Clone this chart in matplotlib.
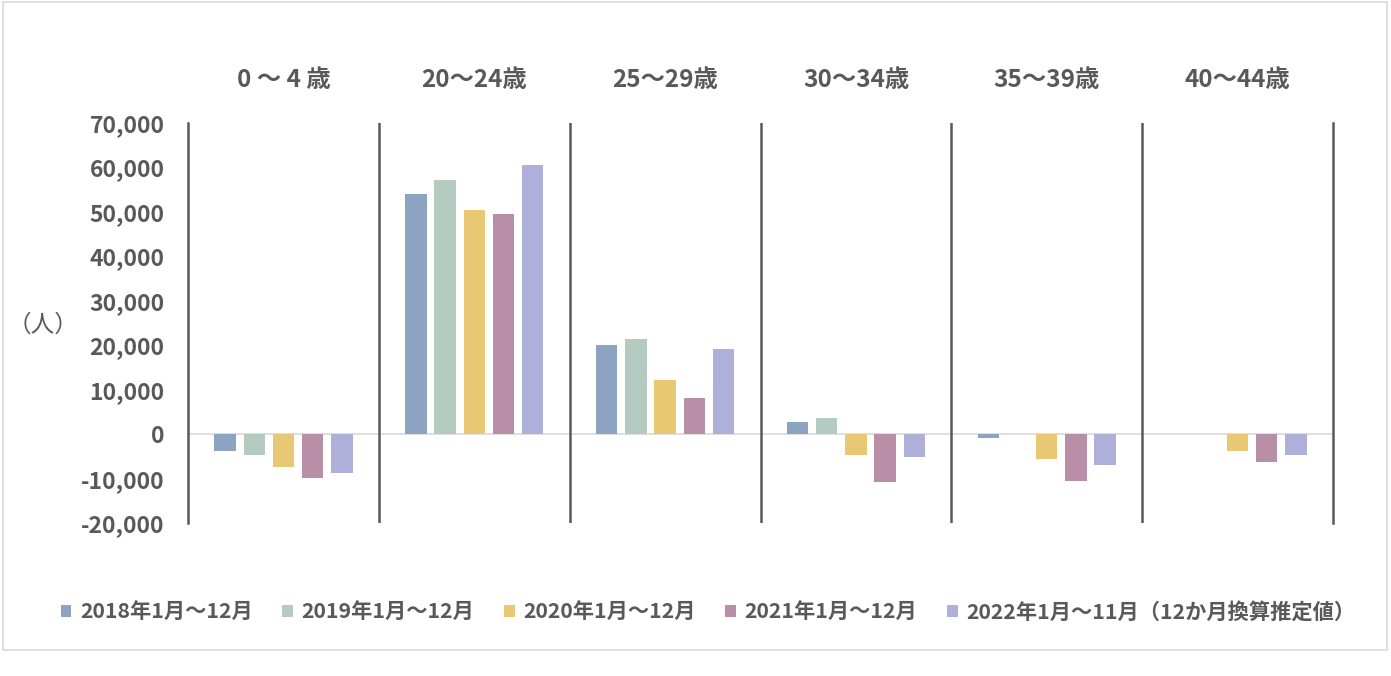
import matplotlib
matplotlib.use("Agg")
import matplotlib.pyplot as plt
import numpy as np
from matplotlib.patches import Patch, Rectangle
from matplotlib.ticker import FuncFormatter

plt.rcParams['font.family'] = ['Noto Sans CJK JP', 'DejaVu Sans']

# Data (persons, net change by age group)
age_groups = ['0 ～ 4 歳', '20～24歳', '25～29歳', '30～34歳', '35～39歳', '40～44歳']
series_labels = ['2018年1月～12月', '2019年1月～12月', '2020年1月～12月',
                 '2021年1月～12月', '2022年1月～11月（12か月換算推定値）']
v2018 = [-3800, 54000, 20000, 2700, -900, 0]
v2019 = [-4600, 57100, 21400, 3600, 0, 0]
v2020 = [-7400, 50400, 12200, -4800, -5600, -3800]
v2021 = [-9900, 49500, 8100, -10700, -10500, -6200]
v2022 = [-8800, 60600, 19100, -5200, -7000, -4600]
series_values = [v2018, v2019, v2020, v2021, v2022]
colors = ['#8CA3C1', '#B6CBC0', '#E9C874', '#B98FA7', '#AFB0DA']

text_color = '#595959'

fig = plt.figure(figsize=(13.91, 6.76), dpi=100)
ax = fig.add_axes([0.1352, 0.2263, 0.9583 - 0.1352, 0.818 - 0.2263])

# Outer chart border
fig.patches.append(Rectangle((0.002, 0.039), 0.995, 0.958, transform=fig.transFigure,
                             facecolor='none', edgecolor='#D9D9D9', linewidth=1.2))

x = np.arange(len(age_groups))
spacing = 0.153
width = 0.112
for i, (vals, c) in enumerate(zip(series_values, colors)):
    ax.bar(x + (i - 2) * spacing, vals, width=width, color=c, zorder=3)

ax.set_xlim(-0.5, len(age_groups) - 0.5)
ax.set_ylim(-20000, 70000)
ax.set_yticks(np.arange(-20000, 70001, 10000))
ax.yaxis.set_major_formatter(FuncFormatter(lambda v, p: f'{int(v):,}'))

# Zero line and group separators
ax.axhline(0, color='#D9D9D9', linewidth=1.2, zorder=2)
for b in np.arange(0.5, len(age_groups) - 0.5, 1):
    ax.axvline(b, color=text_color, linewidth=1.8, zorder=4)

for s in ['top', 'bottom']:
    ax.spines[s].set_visible(False)
for s in ['left', 'right']:
    ax.spines[s].set_color(text_color)
    ax.spines[s].set_linewidth(1.8)

ax.xaxis.tick_top()
ax.set_xticks(x)
ax.set_xticklabels(age_groups, fontsize=17.5, fontweight='bold', color=text_color)
ax.tick_params(axis='x', length=0, pad=22)
ax.tick_params(axis='y', length=0, pad=17, labelsize=16.5, labelcolor=text_color)
for lbl in ax.get_yticklabels():
    lbl.set_fontweight('bold')

fig.text(0.031, 0.519, '（人）', fontsize=17, color=text_color, ha='center', va='center')

handles = [Patch(facecolor=c, edgecolor='none', label=l) for c, l in zip(colors, series_labels)]
leg = fig.legend(handles=handles, loc='center', bbox_to_anchor=(0.509, 0.095), ncol=5,
                 frameon=False, handlelength=0.5, handleheight=0.5, handletextpad=0.4,
                 columnspacing=1.4, prop={'size': 15.3, 'weight': 'bold'})
for t in leg.get_texts():
    t.set_color(text_color)

fig.savefig('out.png', dpi=100, facecolor='white')
